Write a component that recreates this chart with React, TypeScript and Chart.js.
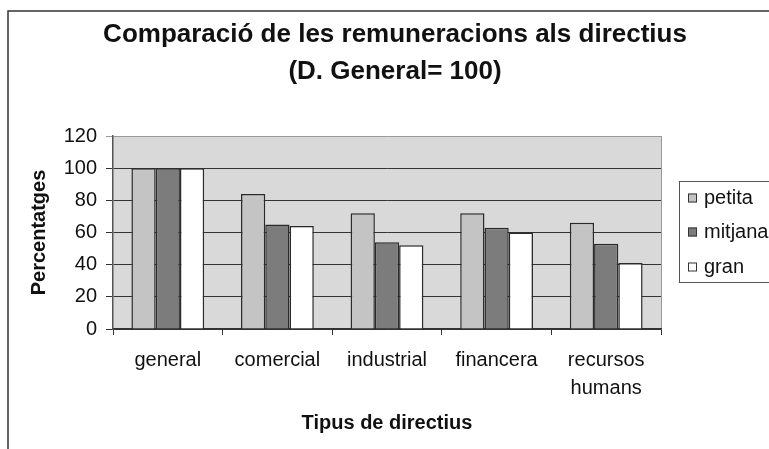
import React, { useEffect, useRef } from "react";
import { Chart, registerables } from "chart.js";

Chart.register(...registerables);

const categories: (string | string[])[] = ["general", "comercial", "industrial", "financera", ["recursos", "humans"]];
const seriesNames = ["petita", "mitjana", "gran"];
const petita = [100, 84, 72, 72, 66];
const mitjana = [100, 65, 54, 63, 53];
const gran = [100, 64, 52, 60, 41];
const titleLines = ["Comparació de les remuneracions als directius", "(D. General= 100)"];
const yTitle = "Percentatges";
const xTitle = "Tipus de directius";

const FONT = "'Liberation Sans', Arial, sans-serif";
const colors = ["#c4c4c4", "#7c7c7c", "#ffffff"];

const decorPlugin = {
  id: "decor",
  beforeDraw(chart: any) {
    const { ctx, chartArea } = chart;
    ctx.save();
    ctx.fillStyle = "#ffffff";
    ctx.fillRect(0, 0, chart.width, chart.height);
    // outer frame
    ctx.strokeStyle = "#333333";
    ctx.lineWidth = 1.5;
    ctx.beginPath();
    ctx.moveTo(8, chart.height + 2);
    ctx.lineTo(8, 11);
    ctx.lineTo(chart.width + 2, 11);
    ctx.stroke();
    // plot background
    ctx.fillStyle = "#d9d9d9";
    ctx.fillRect(chartArea.left, chartArea.top, chartArea.right - chartArea.left, chartArea.bottom - chartArea.top);
    ctx.strokeStyle = "#9a9a9a";
    ctx.lineWidth = 1;
    ctx.beginPath();
    ctx.moveTo(chartArea.right + 0.5, chartArea.top);
    ctx.lineTo(chartArea.right + 0.5, chartArea.bottom);
    ctx.stroke();
    // title
    ctx.fillStyle = "#111111";
    ctx.font = `bold 26px ${FONT}`;
    ctx.textAlign = "center";
    ctx.textBaseline = "middle";
    ctx.fillText(titleLines[0], 395, 35);
    ctx.fillText(titleLines[1], 395, 72);
    ctx.restore();
  },
  afterDraw(chart: any) {
    const { ctx } = chart;
    ctx.save();
    // legend
    ctx.strokeStyle = "#555555";
    ctx.lineWidth = 1;
    ctx.strokeRect(679.5, 181.5, 120, 101);
    const ys = [198, 232, 267];
    chart.data.datasets.forEach((ds: any, i: number) => {
      ctx.fillStyle = ds.backgroundColor;
      ctx.fillRect(688, ys[i] - 4.5, 9, 9);
      ctx.strokeStyle = "#333333";
      ctx.strokeRect(688.5, ys[i] - 4, 8, 8);
      ctx.fillStyle = "#111111";
      ctx.font = `20px ${FONT}`;
      ctx.textAlign = "left";
      ctx.textBaseline = "middle";
      ctx.fillText(ds.label, 704, ys[i]);
    });
    ctx.restore();
  },
};

export default function App() {
  const ref = useRef<HTMLCanvasElement>(null);
  useEffect(() => {
    document.body.style.margin = "0";
    const canvas = ref.current!;
    const chart = new Chart(canvas, {
      type: "bar",
      data: {
        labels: categories,
        datasets: [petita, mitjana, gran].map((d, i) => ({
          label: seriesNames[i],
          data: d,
          backgroundColor: colors[i],
          borderColor: "#2a2a2a",
          borderWidth: 1.5,
          categoryPercentage: 0.664,
          barPercentage: 1,
        })),
      },
      options: {
        animation: false,
        responsive: false,
        layout: { padding: { top: 136, left: 8, right: 108, bottom: 0 } },
        plugins: {
          legend: { display: false },
          title: { display: false },
          tooltip: { enabled: false },
        },
        scales: {
          x: {
            offset: true,
            grid: { drawOnChartArea: false, drawTicks: true, tickLength: 6, color: "#333333", offset: true },
            border: { color: "#333333", width: 1.5 },
            ticks: { color: "#111111", font: { family: FONT, size: 20, lineHeight: 1.4 }, padding: 11, maxRotation: 0, autoSkip: false },
            title: { display: true, text: xTitle, color: "#111111", font: { family: FONT, size: 20, weight: "bold" }, padding: { top: 0, bottom: 14 } },
            afterFit(scale: any) { scale.height = 120; },
          },
          y: {
            min: 0,
            max: 120,
            ticks: { stepSize: 20, color: "#111111", font: { family: FONT, size: 20 }, padding: 9 },
            grid: {
              color: (c: any) => (c.tick && c.tick.value === 120 ? "#9a9a9a" : "#333333"),
              lineWidth: 1,
              tickLength: 7,
            },
            border: { color: "#555555", width: 1.5 },
            title: { display: true, text: yTitle, color: "#111111", font: { family: FONT, size: 20, weight: "bold" }, padding: { top: 19, bottom: 0 } },
            afterFit(scale: any) { scale.width = 105; },
          },
        },
      },
      plugins: [decorPlugin],
    });
    return () => chart.destroy();
  }, []);
  return (
    <div style={{ width: 769, height: 449 }}>
      <canvas ref={ref} width={769} height={449} />
    </div>
  );
}
